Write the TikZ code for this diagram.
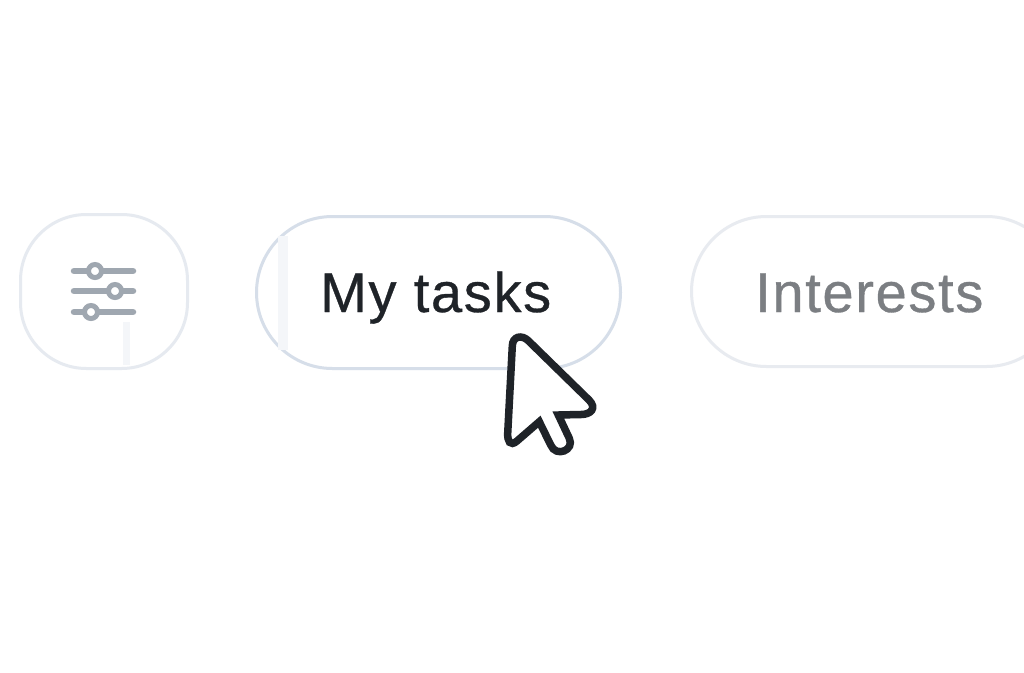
\documentclass[tikz,border=0pt]{standalone}
\usepackage{fontspec}
\setmainfont[LetterSpace=3,FakeBold=0.6]{Liberation Sans}
\definecolor{edgeA}{HTML}{E6EAF0}
\definecolor{edgeB}{HTML}{D6DEE9}
\definecolor{edgeC}{HTML}{E8EBF0}
\definecolor{strip}{HTML}{F4F6F9}
\definecolor{slider}{HTML}{9FA7B0}
\definecolor{ink}{HTML}{1F2328}
\definecolor{muted}{HTML}{7B7E82}
\tikzset{
  x=1pt,y=-1pt,
  chip/.style={draw=#1,fill=white,line width=3pt,inner sep=0pt,anchor=north west},
  track/.style={draw=slider,line width=6.5pt,line cap=round},
  knob/.style={circle,draw=slider,fill=white,line width=5pt,minimum size=13pt,inner sep=0pt},
  label/.style={inner sep=0pt,font=\fontsize{56}{60}\selectfont},
  faint/.style={fill=strip,draw=none}
}
\begin{document}
\begin{tikzpicture}
\useasboundingbox (0,0) rectangle (1024,672);
\clip (0,0) rectangle (1024,672);
\fill[white] (0,0) rectangle (1024,672);
% chips
\node[chip=edgeA,minimum width=167pt,minimum height=154pt,rounded corners=66pt] (filter) at (19,213) {};
\node[chip=edgeB,minimum width=364pt,minimum height=152pt,rounded corners=76pt] (mine) at (255,215) {};
\node[chip=edgeC,minimum width=370pt,minimum height=150pt,rounded corners=75pt] (other) at (690,215) {};
% faint strips
\fill[faint] (278,236) rectangle (288,350);
\fill[faint] (123,322) rectangle (130,365);
% slider icon
\coordinate (t1a) at (74,271); \coordinate (t1b) at (133,271);
\coordinate (t2a) at (74,291); \coordinate (t2b) at (133,291);
\coordinate (t3a) at (74,312); \coordinate (t3b) at (133,312);
\draw[track] (t1a) -- (t1b);
\draw[track] (t2a) -- (t2b);
\draw[track] (t3a) -- (t3b);
\node[knob] (k1) at (95,271) {};
\node[knob] (k2) at (115,291) {};
\node[knob] (k3) at (91,312) {};
% labels
\node[label,text=ink,anchor=base west] (tasks) at (320,312) {My tasks};
\node[label,text=muted,anchor=base west] (interests) at (755,312) {Interests};
% cursor
\draw[draw=ink,fill=white,line width=7.5pt,line join=miter]
  (512.3,346) .. controls (512.5,336) and (522,334.5) .. (528.3,340.7)
  -- (589,400) .. controls (597,408) and (591,414.5) .. (581,414.5)
  -- (558.3,415) -- (569.3,438.3) .. controls (575,450) and (556,458) .. (550.7,445)
  -- (539.3,421.7) -- (517,441) .. controls (510,447) and (507.4,441) .. (507.7,433.3)
  -- cycle;
\end{tikzpicture}
\end{document}
